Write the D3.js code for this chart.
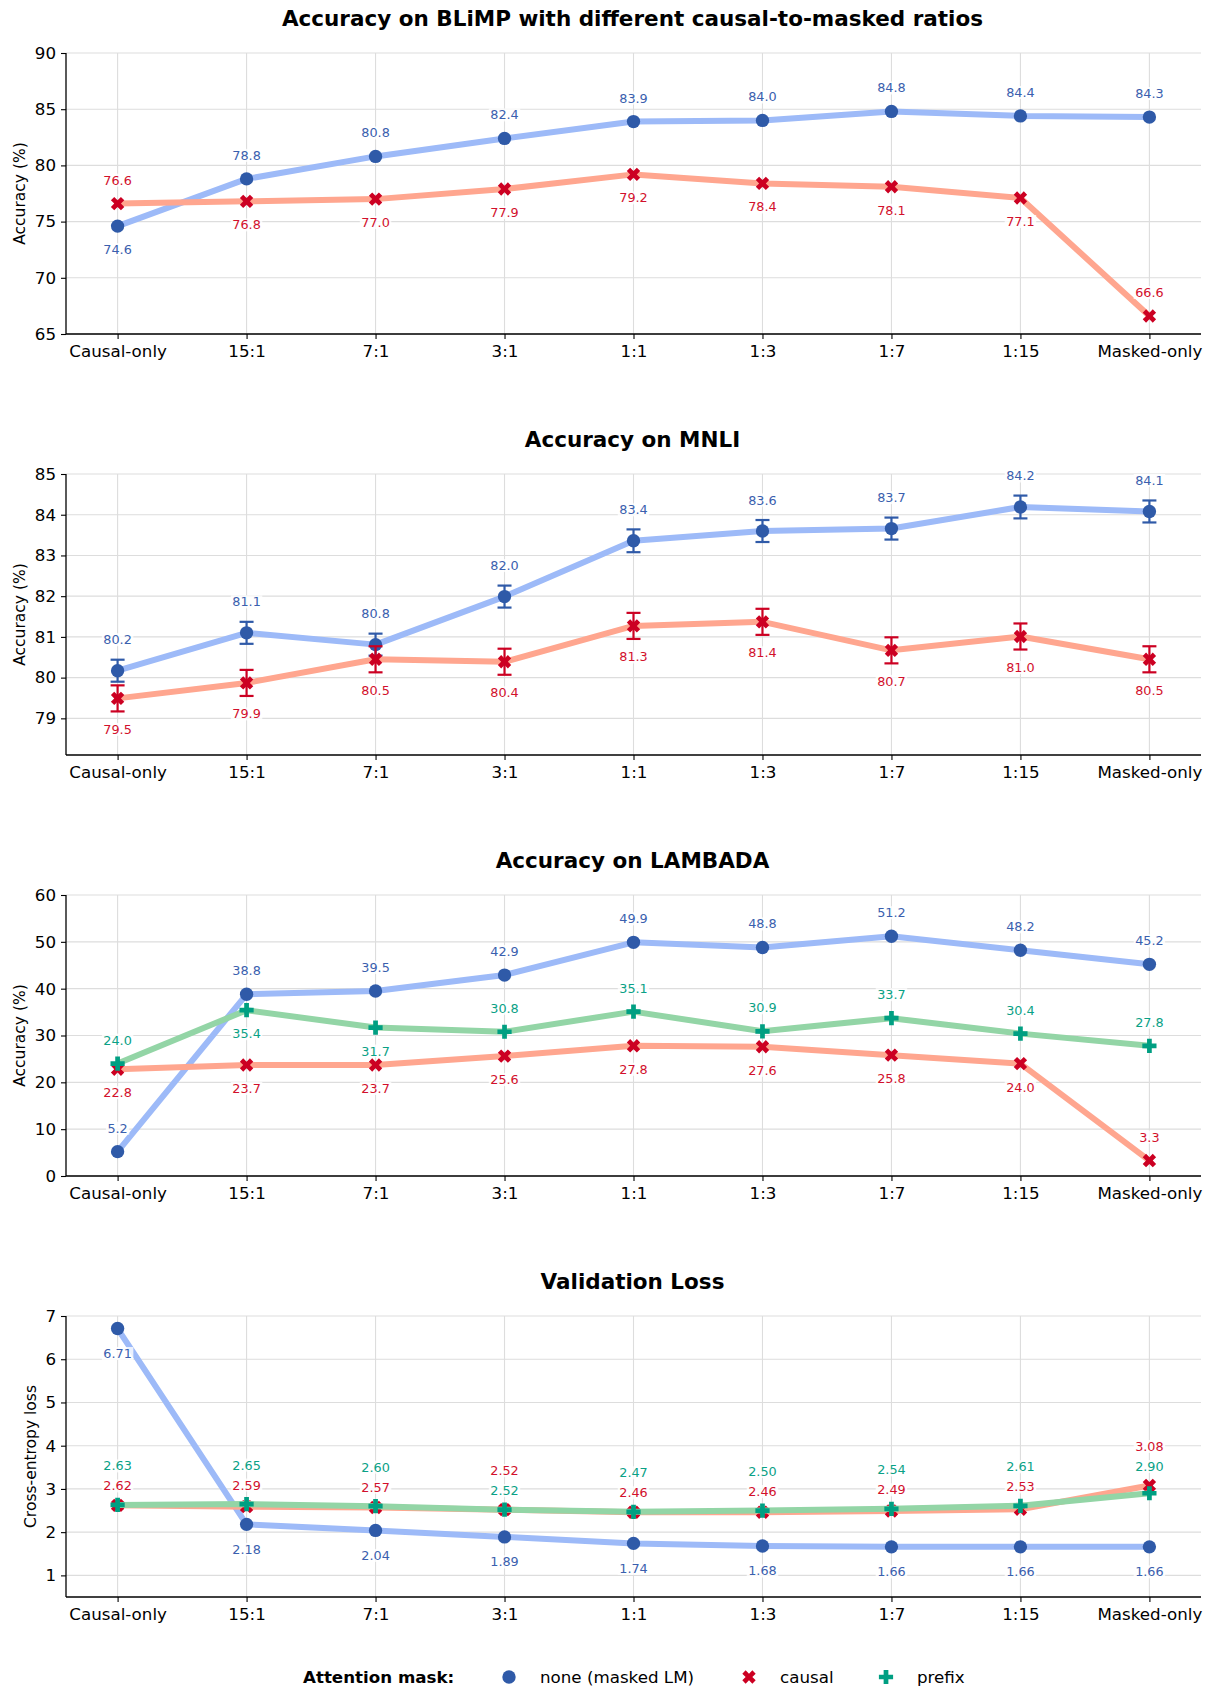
<!DOCTYPE html>
<html>
<head>
<meta charset="utf-8">
<script src="https://cdn.jsdelivr.net/npm/d3@7"></script>
<style>
  body { margin: 0; background: #fff; }
  svg text { font-family: "DejaVu Sans", sans-serif; }
</style>
</head>
<body>
<div id="chart"></div>
<script>
// categories (x axis)
var ratios = ["Causal-only", "15:1", "7:1", "3:1", "1:1", "1:3", "1:7", "1:15", "Masked-only"];

// BLiMP accuracy
var blimpNone   = [74.6, 78.8, 80.8, 82.4, 83.9, 84.0, 84.8, 84.4, 84.3];
var blimpCausal = [76.6, 76.8, 77.0, 77.9, 79.2, 78.4, 78.1, 77.1, 66.6];

// MNLI accuracy + std error bars
var mnliNone      = [80.17, 81.10, 80.81, 81.99, 83.36, 83.60, 83.66, 84.19, 84.08];
var mnliNoneErr   = [0.27, 0.27, 0.27, 0.27, 0.28, 0.27, 0.27, 0.28, 0.27];
var mnliCausal    = [79.49, 79.87, 80.45, 80.39, 81.27, 81.37, 80.67, 81.01, 80.45];
var mnliCausalErr = [0.32, 0.32, 0.32, 0.32, 0.32, 0.32, 0.32, 0.32, 0.32];

// LAMBADA accuracy
var lambadaNone   = [5.2, 38.8, 39.5, 42.9, 49.9, 48.8, 51.2, 48.2, 45.2];
var lambadaCausal = [22.8, 23.7, 23.7, 25.6, 27.8, 27.6, 25.8, 24.0, 3.3];
var lambadaPrefix = [24.0, 35.4, 31.7, 30.8, 35.1, 30.9, 33.7, 30.4, 27.8];

// validation loss
var lossNone   = [6.71, 2.18, 2.04, 1.89, 1.74, 1.68, 1.66, 1.66, 1.66];
var lossCausal = [2.62, 2.59, 2.57, 2.52, 2.46, 2.46, 2.49, 2.53, 3.08];
var lossPrefix = [2.63, 2.65, 2.60, 2.52, 2.47, 2.50, 2.54, 2.61, 2.90];

var legendLabels = ["none (masked LM)", "causal", "prefix"];

// look of each series
var styles = {
  none:   {line: "#9dbaf8", mark: "#2f5aa8", text: "#3a60ae", shape: "circle"},
  causal: {line: "#ffa68f", mark: "#cc0022", text: "#d2102c", shape: "x"},
  prefix: {line: "#93d5a6", mark: "#009f82", text: "#0aa186", shape: "plus"}
};

var panels = [
  {title: "Accuracy on BLiMP with different causal-to-masked ratios", ylabel: "Accuracy (%)",
   domain: [65, 90], ticks: [65, 70, 75, 80, 85, 90], fmt: ".1f", off: 23.5,
   series: [
     {key: "none", values: blimpNone, place: "baaaaaaaa"},
     {key: "causal", values: blimpCausal, place: "abbbbbbba"}]},
  {title: "Accuracy on MNLI", ylabel: "Accuracy (%)",
   domain: [78.1, 85], ticks: [79, 80, 81, 82, 83, 84, 85], fmt: ".1f", off: 31,
   series: [
     {key: "none", values: mnliNone, err: mnliNoneErr, place: "aaaaaaaaa"},
     {key: "causal", values: mnliCausal, err: mnliCausalErr, place: "bbbbbbbbb"}]},
  {title: "Accuracy on LAMBADA", ylabel: "Accuracy (%)",
   domain: [0, 60], ticks: [0, 10, 20, 30, 40, 50, 60], fmt: ".1f", off: 23.5,
   series: [
     {key: "none", values: lambadaNone, place: "aaaaaaaaa"},
     {key: "causal", values: lambadaCausal, place: "bbbbbbbba"},
     {key: "prefix", values: lambadaPrefix, place: "abbaaaaaa"}]},
  {title: "Validation Loss", ylabel: "Cross-entropy loss",
   domain: [0.5, 7], ticks: [1, 2, 3, 4, 5, 6, 7], fmt: ".2f", off: 25, stacked: true,
   series: [
     {key: "none", values: lossNone, place: "bbbbbbbbb"},
     {key: "causal", values: lossCausal, place: "sssssssss"},
     {key: "prefix", values: lossPrefix, place: "sssssssss"}]}
];

var W = 1210, H = 1688;
var left = 66, right = 1201, plotH = 281;

var svg = d3.select("#chart").append("svg")
  .attr("width", W).attr("height", H);

var x = d3.scalePoint().domain(ratios).range([left, right]).padding(0.4);

function markerPath(shape) {
  if (shape == "circle") return d3.symbol(d3.symbolCircle, 140)();
  return d3.symbol(d3.symbolCross, 112)();
}

panels.forEach(function(p, pi) {
  var top = 53 + pi * 421;
  var y = d3.scaleLinear().domain(p.domain).range([top + plotH, top]);
  var g = svg.append("g");

  // grid
  g.selectAll(".gy").data(p.ticks).enter().append("line")
    .attr("x1", left).attr("x2", right)
    .attr("y1", function(d){ return y(d); }).attr("y2", function(d){ return y(d); })
    .attr("stroke", "#dddddd").attr("stroke-width", 1.1);
  g.selectAll(".gx").data(ratios).enter().append("line")
    .attr("x1", function(d){ return x(d); }).attr("x2", function(d){ return x(d); })
    .attr("y1", top).attr("y2", top + plotH)
    .attr("stroke", "#dddddd").attr("stroke-width", 1.1);

  // axes
  var ax = g.append("g").attr("transform", "translate(0," + (top + plotH) + ")")
    .call(d3.axisBottom(x).tickSize(5).tickPadding(6));
  var ay = g.append("g").attr("transform", "translate(" + left + ",0)")
    .call(d3.axisLeft(y).tickValues(p.ticks).tickSize(5).tickPadding(5).tickFormat(d3.format("d")));
  [ax, ay].forEach(function(a){
    a.select(".domain").attr("stroke", "#000").attr("stroke-width", 1.3);
    a.selectAll(".tick line").attr("stroke", "#000").attr("stroke-width", 1.1);
    a.selectAll("text").attr("font-size", "16.7px").attr("fill", "#000")
      .style("font-family", "DejaVu Sans");
  });
  // spines span the plot only
  ax.select(".domain").attr("d", "M" + left + ",0H" + right);
  ay.select(".domain").attr("d", "M0," + top + "V" + (top + plotH));

  svg.append("text").attr("x", (left + right) / 2 - 1).attr("y", top - 27)
    .attr("text-anchor", "middle").attr("font-size", "21.5px").attr("font-weight", "bold")
    .text(p.title);

  var ylx = pi == 3 ? 31 : 20;
  svg.append("text")
    .attr("transform", "translate(" + ylx + "," + (top + plotH / 2) + ") rotate(-90)")
    .attr("text-anchor", "middle").attr("dominant-baseline", "central")
    .attr("font-size", "15.5px").text(p.ylabel);

  var line = d3.line().x(function(d, i){ return x(ratios[i]); }).y(function(d){ return y(d); });

  p.series.forEach(function(s) {
    var st = styles[s.key];
    g.append("path").datum(s.values).attr("d", line)
      .attr("fill", "none").attr("stroke", st.line).attr("stroke-width", 6)
      .attr("stroke-linejoin", "round");
    if (s.err) {
      var eb = g.append("g").attr("stroke", st.mark).attr("stroke-width", 2.2);
      s.values.forEach(function(v, i) {
        var cx = x(ratios[i]), y1 = y(v + s.err[i]), y2 = y(v - s.err[i]);
        eb.append("line").attr("x1", cx).attr("x2", cx).attr("y1", y1).attr("y2", y2);
        eb.append("line").attr("x1", cx - 7).attr("x2", cx + 7).attr("y1", y1).attr("y2", y1);
        eb.append("line").attr("x1", cx - 7).attr("x2", cx + 7).attr("y1", y2).attr("y2", y2);
      });
    }
    g.selectAll(".m" + s.key).data(s.values).enter().append("path")
      .attr("d", markerPath(st.shape))
      .attr("transform", function(d, i){
        return "translate(" + x(ratios[i]) + "," + y(d) + ")" + (st.shape == "x" ? " rotate(45)" : "");
      })
      .attr("fill", st.mark);
  });

  // value labels
  var lab = svg.append("g");
  p.series.forEach(function(s) {
    var st = styles[s.key];
    s.values.forEach(function(v, i) {
      var cx = x(ratios[i]), cy = y(v), ty;
      var pl = s.place[i];
      if (pl == "a") ty = cy - p.off;
      else if (pl == "b") ty = cy + p.off;
      else {
        var c = lossCausal[i], f = lossPrefix[i];
        var topY = y(Math.max(c, f));
        var upper = s.key == "causal" ? c >= f : f > c;
        ty = topY - (upper ? 39 : 19);
      }
      var t = lab.append("text").attr("x", cx).attr("y", ty)
        .attr("text-anchor", "middle").attr("dominant-baseline", "central")
        .attr("font-size", "12.8px").attr("fill", st.text)
        .text(d3.format(p.fmt)(v));
      var bb = t.node().getBBox();
      lab.insert("rect", function(){ return t.node(); })
        .attr("x", bb.x - 1.5).attr("y", bb.y + 1).attr("width", bb.width + 3).attr("height", bb.height - 2)
        .attr("fill", "#fff").attr("opacity", 0.8);
    });
  });
});

// legend
var lg = svg.append("g").attr("transform", "translate(0,1677)");
lg.append("text").attr("x", 303).attr("y", 0).attr("dominant-baseline", "central")
  .attr("font-size", "16.7px").attr("font-weight", "bold").text("Attention mask:");
var legendKeys = ["none", "causal", "prefix"];
var legendX = [509, 749, 886];
legendKeys.forEach(function(k, i) {
  var st = styles[k];
  lg.append("path").attr("d", markerPath(st.shape))
    .attr("transform", "translate(" + legendX[i] + ",0)" + (st.shape == "x" ? " rotate(45)" : ""))
    .attr("fill", st.mark);
  lg.append("text").attr("x", legendX[i] + 31).attr("y", 0).attr("dominant-baseline", "central")
    .attr("font-size", "16.7px").text(legendLabels[i]);
});
</script>
</body>
</html>
